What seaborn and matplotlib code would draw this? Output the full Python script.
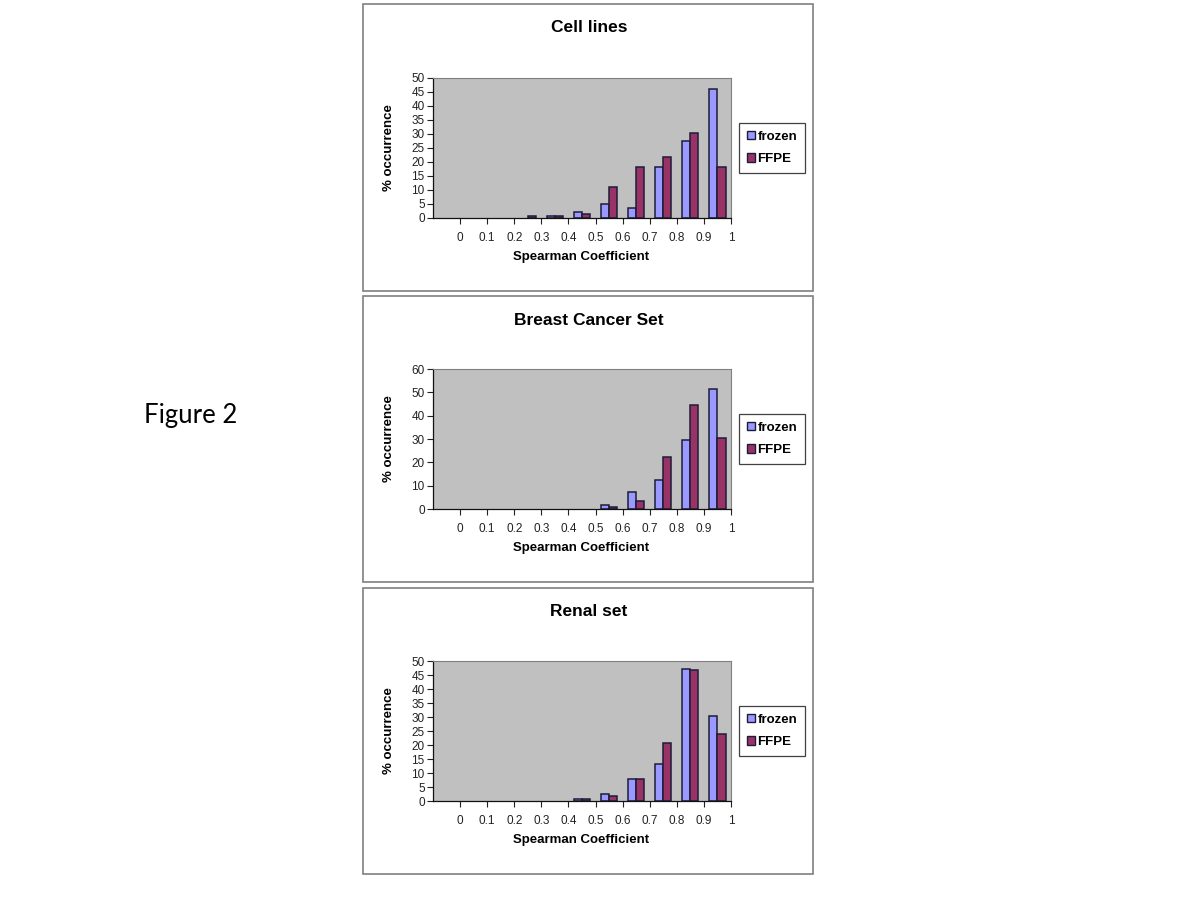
import matplotlib
matplotlib.use('Agg')
import matplotlib.pyplot as plt
import seaborn as sns
import pandas as pd
from matplotlib.patches import Rectangle

# bins of the Spearman coefficient (first slot is empty, below 0)
bins = ['<0', '0-0.1', '0.1-0.2', '0.2-0.3', '0.3-0.4', '0.4-0.5',
        '0.5-0.6', '0.6-0.7', '0.7-0.8', '0.8-0.9', '0.9-1']
tick_labels = ['0', '0.1', '0.2', '0.3', '0.4', '0.5', '0.6', '0.7', '0.8', '0.9', '1']

# % occurrence
cell_frozen = [0, 0, 0, 0, 0.7, 2.2, 5.1, 3.4, 18.3, 27.4, 45.9]
cell_ffpe = [0, 0, 0, 0.8, 0.7, 1.5, 11.1, 18.3, 21.9, 30.4, 18.3]

breast_frozen = [0, 0, 0, 0, 0, 0, 1.8, 7.1, 12.4, 29.4, 51.6]
breast_ffpe = [0, 0, 0, 0, 0, 0, 1.0, 3.4, 22.3, 44.7, 30.4]

renal_frozen = [0, 0, 0, 0, 0, 0.8, 2.4, 7.7, 13.2, 47.3, 30.5]
renal_ffpe = [0, 0, 0, 0, 0, 0.8, 1.7, 7.7, 20.8, 46.7, 23.9]

panels = [
    ('Cell lines', cell_frozen, cell_ffpe, 50, 5),
    ('Breast Cancer Set', breast_frozen, breast_ffpe, 60, 10),
    ('Renal set', renal_frozen, renal_ffpe, 50, 5),
]

W, H = 1200, 900
plt.rcParams['font.family'] = ['Liberation Sans', 'DejaVu Sans']
fig = plt.figure(figsize=(12, 9), dpi=100)
fig.patch.set_facecolor('white')

# pixel layout of each panel: box top, box bottom, plot top, plot bottom
layout = [(4, 291, 78, 218), (296, 582, 369, 509), (588, 874, 661, 801)]
box_l, box_r = 363, 813
plot_l, plot_r = 433, 731

palette = {'frozen': '#9999FF', 'FFPE': '#993366'}

for (title, frozen, ffpe, ymax, ystep), (bt, bb, pt, pb) in zip(panels, layout):
    # outer chart box
    fig.add_artist(Rectangle((box_l / W, 1 - bb / H), (box_r - box_l) / W, (bb - bt) / H,
                             transform=fig.transFigure, facecolor='white',
                             edgecolor='#7f7f7f', linewidth=1.2, zorder=0))

    ax = fig.add_axes([plot_l / W, 1 - pb / H, (plot_r - plot_l) / W, (pb - pt) / H])

    df = pd.DataFrame({
        'bin': bins * 2,
        'Sample': ['frozen'] * len(bins) + ['FFPE'] * len(bins),
        'pct': frozen + ffpe,
    })
    sns.barplot(data=df, x='bin', y='pct', hue='Sample', order=bins,
                hue_order=['frozen', 'FFPE'], palette=palette, width=0.6,
                edgecolor='#1c1c3a', linewidth=1.1, saturation=1, ax=ax)
    # empty bins draw nothing
    for cont in ax.containers:
        for p in cont:
            if p.get_height() == 0:
                p.set_linewidth(0)

    ax.set_facecolor('#C0C0C0')
    ax.set_xlim(-0.5, len(bins) - 0.5)
    ax.set_ylim(0, ymax)
    ax.set_yticks(range(0, ymax + 1, ystep))
    ax.set_xticks([i + 0.5 for i in range(len(tick_labels))])
    ax.set_xticklabels(tick_labels)
    ax.tick_params(axis='both', labelsize=8.5, colors='#222222', length=4, width=0.8)
    ax.tick_params(axis='x', pad=6)
    ax.tick_params(axis='y', pad=2)
    for s in ['top', 'right']:
        ax.spines[s].set_color('#808080')
        ax.spines[s].set_linewidth(0.8)
    for s in ['left', 'bottom']:
        ax.spines[s].set_color('#111111')
        ax.spines[s].set_linewidth(0.9)

    ax.set_xlabel('')
    ax.set_ylabel('')
    fig.text(589 / W, 1 - (bt + 24) / H, title, ha='center', va='center',
             fontsize=12.5, fontweight='bold')
    fig.text(581 / W, 1 - (pb + 39) / H, 'Spearman Coefficient', ha='center',
             va='center', fontsize=9.5, fontweight='bold')
    fig.text(389 / W, 1 - ((pt + pb) / 2) / H, '% occurrence', ha='center',
             va='center', rotation=90, fontsize=9.5, fontweight='bold')

    leg = ax.legend(loc='center left', bbox_to_anchor=(1.027, 0.5), frameon=True,
                    fancybox=False, fontsize=9.5, handlelength=0.6, handleheight=0.6,
                    handletextpad=0.2, borderpad=0.6, labelspacing=0.8,
                    borderaxespad=0)
    leg.get_frame().set_edgecolor('#111111')
    leg.get_frame().set_linewidth(0.9)
    for h in leg.legend_handles:
        h.set_edgecolor('#1c1c3a')
        h.set_linewidth(1.0)
    for t in leg.get_texts():
        t.set_fontweight('bold')

fig.text(191 / W, 1 - 415 / H, 'Figure 2', ha='center', va='center', fontsize=18.5,
         family=['Lato', 'DejaVu Sans'])

fig.savefig('out.png', dpi=100, facecolor='white')
